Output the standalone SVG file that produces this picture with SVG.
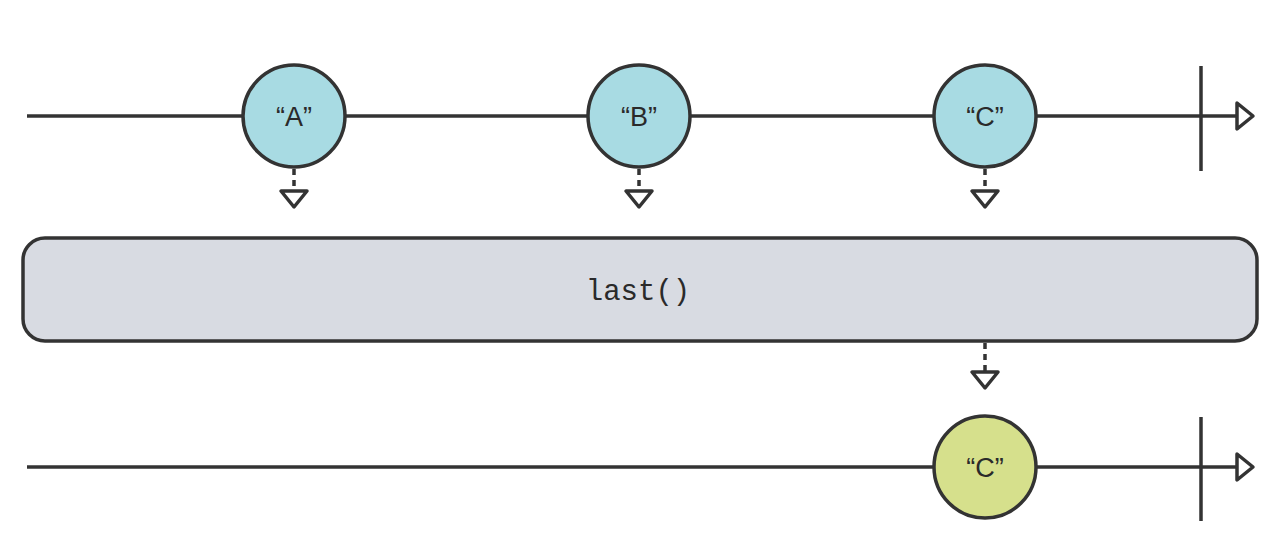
<svg xmlns="http://www.w3.org/2000/svg" width="1280" height="556" viewBox="0 0 1280 556">
<style>
.ln{stroke:#333;stroke-width:3.5;fill:none}
.dash{stroke:#333;stroke-width:3.5;fill:none;stroke-dasharray:6 5}
.tri{stroke:#333;stroke-width:3.5;fill:#fff;stroke-linejoin:round}
.blue{fill:#a8dbe3;stroke:#333;stroke-width:3.5}
.green{fill:#d6e08c;stroke:#333;stroke-width:3.5}
.lbl{font-family:"Liberation Sans",Arial,sans-serif;font-size:27px;fill:#2a2a2a;text-anchor:middle;dominant-baseline:central}
.op{font-family:"Liberation Mono","DejaVu Sans Mono",monospace;font-size:29px;fill:#2a2a2a;text-anchor:middle;dominant-baseline:central}
</style>
<rect width="1280" height="556" fill="#fff"/>
<g id="timeline-top">
<line class="ln" x1="27" y1="116" x2="1237" y2="116"/>
<line class="ln" x1="1201" y1="66" x2="1201" y2="171"/>
<polygon class="tri" points="1237,103 1253,116 1237,129"/>
</g>
<g id="timeline-bottom">
<line class="ln" x1="27" y1="467" x2="1237" y2="467"/>
<line class="ln" x1="1201" y1="417" x2="1201" y2="521"/>
<polygon class="tri" points="1237,454 1253,467 1237,480"/>
</g>
<g id="connectors">
<line class="dash" x1="294" y1="169" x2="294" y2="190"/>
<polygon class="tri" points="281,191 307,191 294,207"/>
<line class="dash" x1="639" y1="169" x2="639" y2="190"/>
<polygon class="tri" points="626,191 652,191 639,207"/>
<line class="dash" x1="985" y1="169" x2="985" y2="190"/>
<polygon class="tri" points="972,191 998,191 985,207"/>
<line class="dash" x1="985" y1="343" x2="985" y2="371"/>
<polygon class="tri" points="972,372 998,372 985,388"/>
</g>
<g id="node-a">
<circle class="blue" cx="294" cy="116" r="51"/>
<text class="lbl" x="294" y="117">“A”</text>
</g>
<g id="node-b">
<circle class="blue" cx="639" cy="116" r="51"/>
<text class="lbl" x="639" y="117">“B”</text>
</g>
<g id="node-c">
<circle class="blue" cx="985" cy="116" r="51"/>
<text class="lbl" x="985" y="117">“C”</text>
</g>
<g id="operator">
<rect x="23" y="238" width="1234" height="103" rx="22" fill="#d8dbe2" stroke="#333" stroke-width="3.5"/>
<text class="op" x="638" y="292">last()</text>
</g>
<g id="node-c-out">
<circle class="green" cx="985" cy="467" r="51"/>
<text class="lbl" x="985" y="468">“C”</text>
</g>
</svg>
